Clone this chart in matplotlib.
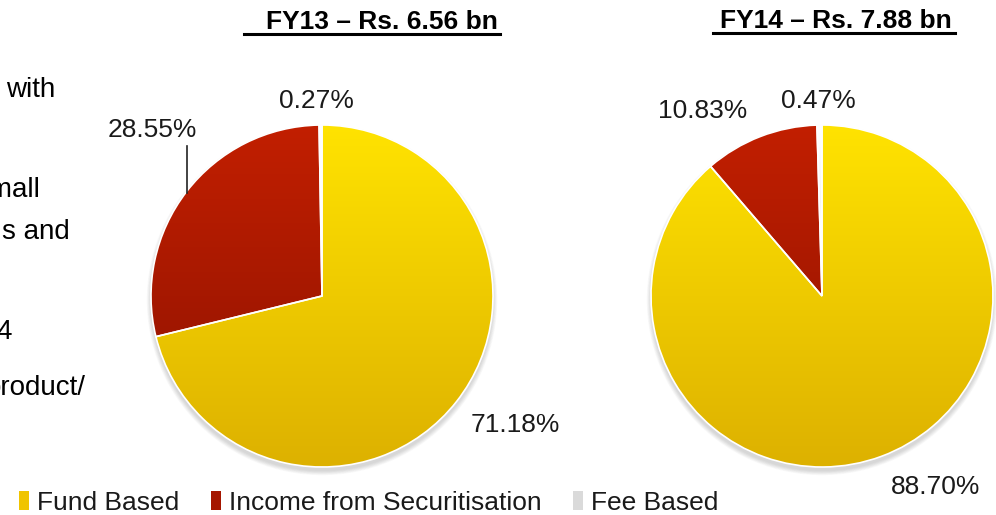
import numpy as np
import matplotlib.pyplot as plt
from matplotlib.colors import LinearSegmentedColormap
from matplotlib.patches import Circle, Patch

# dane
categories = ["Fund Based", "Income from Securitisation", "Fee Based"]
fy13_values = [71.18, 28.55, 0.27]
fy14_values = [88.70, 10.83, 0.47]
fy13_title = "FY13 \u2013 Rs. 6.56 bn"
fy14_title = "FY14 \u2013 Rs. 7.88 bn"

# kolory (gora -> dol gradientu)
grad_colors = [("#FFE300", "#DDB100"), ("#C21F00", "#8A1100"), ("#FFFFFF", "#D0D0D0")]
legend_colors = ["#F0C400", "#A51600", "#DADADA"]

W, H = 996, 515
FONT = "Liberation Sans"


def py(y):
    # piksele od gory -> wspolrzedne osi
    return H - y


fig = plt.figure(figsize=(W / 100, H / 100), dpi=100)
ax = fig.add_axes([0, 0, 1, 1])

grad = np.linspace(0, 1, 256).reshape(-1, 1)
cmaps = [LinearSegmentedColormap.from_list(f"g{i}", c) for i, c in enumerate(grad_colors)]


def draw_pie(values, cx, cy, r):
    # cien pod wykresem
    for k in range(7):
        ax.add_patch(Circle((cx, cy - 4), r + k * 0.7, color="#555555", alpha=0.035, lw=0, zorder=0))
    ax.add_patch(Circle((cx, cy), r, color="white", lw=0, zorder=0.5))
    wedges, _ = ax.pie(values, startangle=90, counterclock=False, center=(cx, cy), radius=r,
                       frame=True, colors=legend_colors,
                       wedgeprops=dict(edgecolor="white", linewidth=1.2))
    for w, cm in zip(wedges, cmaps):
        w.set_facecolor("none")
        w.set_zorder(2)
        im = ax.imshow(grad, extent=[cx - r, cx + r, cy - r, cy + r], cmap=cm,
                       aspect="auto", zorder=1, interpolation="bilinear")
        im.set_clip_path(w)
    return wedges


draw_pie(fy13_values, 322, py(296), 171)
draw_pie(fy14_values, 822, py(296), 171)

# etykiety procentowe
label_pos_13 = [(515, 425), (152, 130), (316, 101)]
label_pos_14 = [(936, 487), (703, 111), (818, 101)]
for vals, pos in [(fy13_values, label_pos_13), (fy14_values, label_pos_14)]:
    for v, (x, y) in zip(vals, pos):
        ax.text(x, py(y), f"{v:.2f}%", ha="center", va="center", fontsize=19,
                family=FONT, color="#1a1a1a", zorder=5)
ax.plot([187, 187], [py(146), py(193)], color="#222222", lw=1.2, zorder=5)

# tytuly z podkresleniem
ax.text(382, py(22), fy13_title, ha="center", va="center", fontsize=19,
        fontweight="bold", family=FONT, color="black")
ax.plot([244, 500], [py(34), py(34)], color="black", lw=2.2)
ax.text(836, py(21), fy14_title, ha="center", va="center", fontsize=19,
        fontweight="bold", family=FONT, color="black")
ax.plot([713, 955], [py(33), py(33)], color="black", lw=2.2)

# uciety tekst ze slajdu po lewej (w oryginale tez uciety)
side_text = [("with", 55, 90), ("small", 40, 190), ("s and", 70, 232), ("4", 12, 332), ("product/", 85, 388)]
for s, x, y in side_text:
    ax.text(x, py(y), s, ha="right", va="center", fontsize=20, family=FONT, color="black")

# legenda
handles = [Patch(facecolor=c, edgecolor="none") for c in legend_colors]
leg = ax.legend(handles, categories, ncol=3, loc="center left",
                bbox_to_anchor=(19 / W, (H - 503) / H), bbox_transform=fig.transFigure,
                frameon=False, borderpad=0, borderaxespad=0,
                handlelength=0.38, handleheight=0.75, handletextpad=0.3,
                columnspacing=1.2, prop={"family": FONT, "size": 19})
for t in leg.get_texts():
    t.set_color("#1a1a1a")

ax.set_xlim(0, W)
ax.set_ylim(0, H)
ax.set_aspect("auto")
ax.axis("off")

fig.savefig("out.png", dpi=100)
